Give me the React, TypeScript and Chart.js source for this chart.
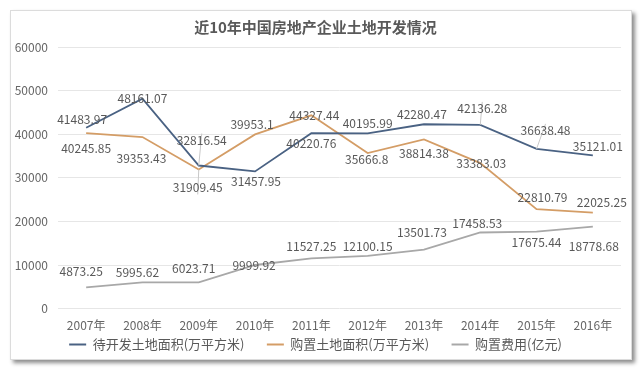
import React, { useEffect, useRef } from "react";
import { Chart, registerables } from "chart.js";

Chart.register(...registerables);

const TITLE = "近10年中国房地产企业土地开发情况";
const categories = ["2007年", "2008年", "2009年", "2010年", "2011年", "2012年", "2013年", "2014年", "2015年", "2016年"];
const seriesNames = ["待开发土地面积(万平方米)", "购置土地面积(万平方米)", "购置费用(亿元)"];
const pendingArea = [41483.97, 48161.07, 32816.54, 31457.95, 40220.76, 40195.99, 42280.47, 42136.28, 36638.48, 35121.01];
const purchasedArea = [40245.85, 39353.43, 31909.45, 39953.1, 44327.44, 35666.8, 38814.38, 33383.03, 22810.79, 22025.25];
const purchaseCost = [4873.25, 5995.62, 6023.71, 9999.92, 11527.25, 12100.15, 13501.73, 17458.53, 17675.44, 18778.68];
const yMin = 0;
const yMax = 60000;
const yStep = 10000;

const COLORS = ["#4A6283", "#D49D66", "#A8A8A8"];

// label placement (style): offsets of each data label from its point, and leader-line flags
const LABEL_DX = [
  [-4, 0, 3, 1, 0, 0, -2, 2, 9, 5],
  [0, -1, -1, -3, 3, -1, 0, 1, 6, 9],
  [-5, -5, -5, -1, 0, 0, -2, -3, 0, 1],
];
const LABEL_DY = [
  [-8, 0, -25, 10, 10, -10, -10, -16, -18, -9],
  [15, 21, 18, -10, 0, 6, 14, 0, -12, -10],
  [-16, -10, -14, 0, -12, -9, -17, -9, 11, 20],
];
const LEADER = [
  [false, false, true, false, false, false, false, true, true, false],
  [false, false, true, false, false, false, false, false, false, false],
  [false, false, false, false, false, false, false, false, false, false],
];

const FONT = "'Noto Sans CJK SC', 'Noto Sans', sans-serif";

const labelPlugin = {
  id: "valueLabels",
  afterDatasetsDraw(chart: any) {
    const ctx = chart.ctx;
    ctx.save();
    ctx.font = `12px ${FONT}`;
    ctx.textAlign = "center";
    ctx.textBaseline = "middle";
    chart.data.datasets.forEach((ds: any, di: number) => {
      const meta = chart.getDatasetMeta(di);
      meta.data.forEach((pt: any, i: number) => {
        const x = pt.x + LABEL_DX[di][i];
        const y = pt.y + LABEL_DY[di][i];
        if (LEADER[di][i]) {
          ctx.strokeStyle = "#c8c8c8";
          ctx.lineWidth = 1;
          ctx.beginPath();
          const dir = Math.sign(LABEL_DY[di][i]);
          ctx.moveTo(x, y + dir * 7);
          ctx.lineTo(pt.x, pt.y);
          ctx.stroke();
        }
        ctx.fillStyle = "#595959";
        ctx.fillText(String(ds.data[i]), x, y);
      });
    });
    ctx.restore();
  },
};

export default function App() {
  const ref = useRef<HTMLCanvasElement>(null);
  useEffect(() => {
    if (!ref.current) return;
    const data = [pendingArea, purchasedArea, purchaseCost];
    const chart = new Chart(ref.current, {
      type: "line",
      data: {
        labels: categories,
        datasets: data.map((d, i) => ({
          label: seriesNames[i],
          data: d,
          borderColor: COLORS[i],
          backgroundColor: COLORS[i],
          borderWidth: 1.8,
          pointRadius: 0,
          tension: 0,
          fill: false,
        })),
      },
      options: {
        animation: false,
        responsive: false,
        maintainAspectRatio: false,
        layout: { padding: { left: 10, right: 19, top: 0, bottom: 9 } },
        plugins: {
          title: {
            display: true,
            text: TITLE,
            color: "#595959",
            font: { family: FONT, size: 15, weight: "bold" },
            padding: { top: 18, bottom: 11 },
          },
          legend: {
            display: true,
            position: "bottom",
            labels: {
              usePointStyle: true,
              pointStyle: "line",
              pointStyleWidth: 17,
              padding: 0,
              color: "#595959",
              font: { family: FONT, size: 13 },
              generateLabels(chart: any) {
                const items = Chart.defaults.plugins.legend.labels.generateLabels(chart);
                return items.map((it: any, idx: number) => ({
                  ...it,
                  lineWidth: 2,
                  text: idx < items.length - 1 ? it.text + "\u2003\u2002 " : it.text,
                }));
              },
            },
          },
          tooltip: { enabled: false },
        },
        scales: {
          x: {
            offset: true,
            grid: { display: false, drawTicks: false },
            border: { display: false },
            ticks: { color: "#666", font: { family: FONT, size: 12 }, padding: 10, maxRotation: 0, autoSkip: false },
            afterFit(scale: any) {
              scale.height = scale.height - 5;
              scale._computeLabelArea = () => undefined;
            },
          },
          y: {
            min: yMin,
            max: yMax,
            grid: { color: "#e6e6e6", drawTicks: false, lineWidth: 1 },
            border: { display: false },
            ticks: {
              stepSize: yStep,
              color: "#666",
              font: { family: FONT, size: 12 },
              padding: 10,
              callback: (v: any) => String(v),
            },
            afterFit(scale: any) {
              scale.width = 48;
            },
          },
        },
      },
      plugins: [labelPlugin],
    });
    return () => chart.destroy();
  }, []);

  return (
    <div style={{ position: "absolute", left: 0, top: 0, width: 640, height: 370, background: "#fff" }}>
      <div
        style={{
          position: "absolute",
          left: 10,
          top: 10,
          width: 620,
          height: 348,
          border: "1px solid #dcdcdc",
          boxShadow: "3px 3px 4px rgba(0,0,0,0.45)",
          background: "#fff",
        }}
      />
      <canvas ref={ref} width={640} height={370} style={{ position: "absolute", left: 0, top: 0, width: 640, height: 370 }} />
    </div>
  );
}
